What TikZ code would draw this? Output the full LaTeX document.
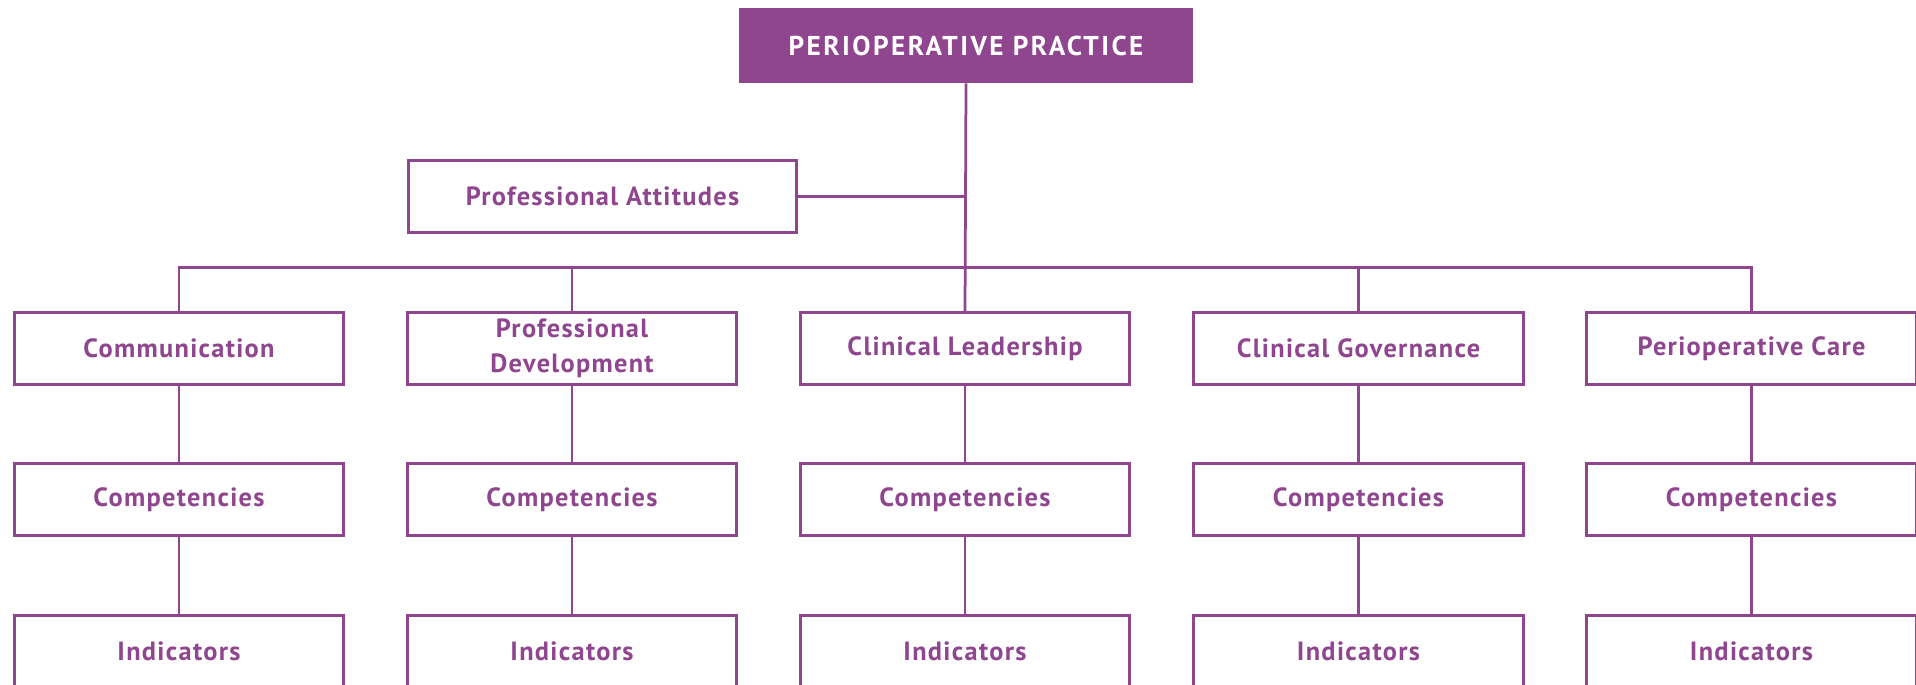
\documentclass[tikz,border=0pt]{standalone}
\usepackage{fontspec}
\setmainfont{PT Sans}
\newfontfamily\boxfont[LetterSpace=5]{PT Sans}
\newfontfamily\titlefont[LetterSpace=9]{PT Sans}
\definecolor{perio}{RGB}{143,70,143}
\begin{document}
\begin{tikzpicture}[x=0.02cm,y=-0.02cm,
  box/.style={draw=perio, line width=0.055cm, fill=white, minimum width=6.59cm, minimum height=1.43cm, inner sep=0pt, text=perio, font=\boxfont\bfseries\fontsize{15}{20}\selectfont, align=center},
  title/.style={fill=perio, text=white, minimum width=9.08cm, minimum height=1.5cm, inner sep=0pt, font=\titlefont\bfseries\fontsize{15.5}{18}\selectfont},
  link/.style={draw=perio, line width=0.055cm}]
\useasboundingbox (0,0) rectangle (1916,685);
\clip (0,0) rectangle (1916,685);
\fill[white] (0,0) rectangle (1916,685);

\node[title] (top) at (966,45.5) {PERIOPERATIVE PRACTICE};
\node[box, minimum width=7.77cm] (att) at (602.5,196.5) {Professional Attitudes};

\node[box] (comm) at (179,348.5) {Communication};
\node[box] (dev) at (572,348.5) {Professional\\Development};
\node[box] (lead) at (965,348.5) {Clinical Leadership};
\node[box] (gov) at (1358.5,348.5) {Clinical Governance};
\node[box] (care) at (1751.5,348.5) {Perioperative Care};

\node[box] (comm2) at (179,499.5) {Competencies};
\node[box] (dev2) at (572,499.5) {Competencies};
\node[box] (lead2) at (965,499.5) {Competencies};
\node[box] (gov2) at (1358.5,499.5) {Competencies};
\node[box] (care2) at (1751.5,499.5) {Competencies};

\node[box] (comm3) at (179,651) {Indicators};
\node[box] (dev3) at (572,651) {Indicators};
\node[box] (lead3) at (965,651) {Indicators};
\node[box] (gov3) at (1358.5,651) {Indicators};
\node[box] (care3) at (1751.5,651) {Indicators};

\coordinate (bus) at (965,267.6);

\draw[link] (top.south) -- (lead.north);
\draw[link] (att.east) -- (att.east -| lead.north);
\draw[link] (comm.north) -- (comm.north |- bus) -- (care.north |- bus) -- (care.north);
\draw[link] (dev.north) -- (dev.north |- bus);
\draw[link] (gov.north) -- (gov.north |- bus);

\foreach \c in {comm,dev,lead,gov,care}{
  \draw[link] (\c.south) -- (\c2.north);
  \draw[link] (\c2.south) -- (\c3.north);
}
\end{tikzpicture}
\end{document}
